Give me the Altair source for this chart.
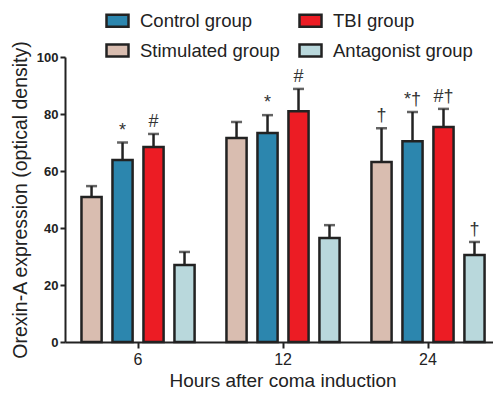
import altair as alt
import pandas as pd

hours = ["6", "12", "24"]
series = ["Stimulated group", "Control group", "TBI group", "Antagonist group"]
legend_order = ["Control group", "Stimulated group", "TBI group", "Antagonist group"]
legend_colors = ["#2C86AE", "#D9BDB0", "#EC1C24", "#B9D8DC"]

stim_mean = [50.9, 71.6, 63.2]
stim_top = [54.7, 77.2, 75.0]
control_mean = [63.9, 73.3, 70.4]
control_top = [70.0, 79.6, 80.7]
tbi_mean = [68.4, 81.0, 75.4]
tbi_top = [73.0, 88.8, 81.8]
antag_mean = [27.0, 36.5, 30.5]
antag_top = [31.6, 41.0, 35.1]

stim_mark = ["", "", "†"]
control_mark = ["*", "*", "*†"]
tbi_mark = ["#", "#", "#†"]
antag_mark = ["", "", "†"]

rows = []
for name, means, tops, marks in [
    ("Stimulated group", stim_mean, stim_top, stim_mark),
    ("Control group", control_mean, control_top, control_mark),
    ("TBI group", tbi_mean, tbi_top, tbi_mark),
    ("Antagonist group", antag_mean, antag_top, antag_mark),
]:
    for h, m, t, s in zip(hours, means, tops, marks):
        rows.append({"hour": h, "group": name, "mean": m, "top": t, "sig": s})
df = pd.DataFrame(rows)

FONT = "Liberation Sans"
INK = "#222222"

x_enc = alt.X(
    "hour:N",
    sort=hours,
    scale=alt.Scale(paddingInner=0.145, paddingOuter=0.0485, align=0.786),
    axis=alt.Axis(
        title="Hours after coma induction",
        labelAngle=0,
        labelFontSize=16,
        labelPadding=3,
        titleFontSize=19,
        titleFontWeight="normal",
        titlePadding=4,
        titleX=217.5,
        tickSize=6,
    ),
)
xo_enc = alt.XOffset(
    "group:N", sort=series, scale=alt.Scale(paddingInner=0.35, paddingOuter=0.175)
)
y_axis = alt.Axis(
    title="Orexin-A expression (optical density)",
    values=[0, 20, 40, 60, 80, 100],
    labelFontSize=13,
    labelFontWeight="bold",
    labelPadding=2,
    titleFontSize=19.5,
    titleFontWeight="normal",
    titlePadding=6,
    tickSize=5,
    grid=False,
)

base = alt.Chart(df)

bars = base.mark_bar(stroke=INK, strokeWidth=2.5).encode(
    x=x_enc,
    xOffset=xo_enc,
    y=alt.Y("mean:Q", scale=alt.Scale(domain=[0, 100], nice=False), axis=y_axis),
    fill=alt.Fill(
        "group:N",
        scale=alt.Scale(domain=legend_order, range=legend_colors),
        legend=alt.Legend(
            title=None,
            orient="none",
            legendX=40,
            legendY=-49,
            columns=2,
            symbolType="M-1,-0.55H1V0.55H-1Z",
            symbolSize=484,
            symbolStrokeColor=INK,
            symbolStrokeWidth=2.5,
            labelFontSize=18.5,
            labelFont=FONT,
            labelColor=INK,
            labelOffset=10,
            rowPadding=6,
            columnPadding=14,
        ),
    ),
)

err = base.mark_rule(color=INK, strokeWidth=2.5).encode(
    x=x_enc, xOffset=xo_enc, y="mean:Q", y2="top:Q"
)
cap = base.mark_tick(color=INK, thickness=2.5, size=11).encode(
    x=x_enc, xOffset=xo_enc, y="top:Q"
)
sig = base.mark_text(
    baseline="bottom", dy=-3, fontSize=18, font=FONT, color="#333333"
).encode(x=x_enc, xOffset=xo_enc, y="top:Q", text="sig:N")

chart = (
    alt.layer(bars, err, cap, sig)
    .properties(
        width=428,
        height=285,
        autosize=alt.AutoSizeParams(type="none"),
        padding={"left": 57, "top": 49, "right": 0, "bottom": 48},
    )
    .configure(font=FONT)
    .configure_view(stroke=None)
    .configure_axis(
        domainColor=INK,
        domainWidth=2,
        tickColor=INK,
        tickWidth=2,
        labelColor=INK,
        titleColor=INK,
        labelFont=FONT,
        titleFont=FONT,
    )
)

chart.save("out.html", embed_options={"renderer": "svg", "actions": False})
